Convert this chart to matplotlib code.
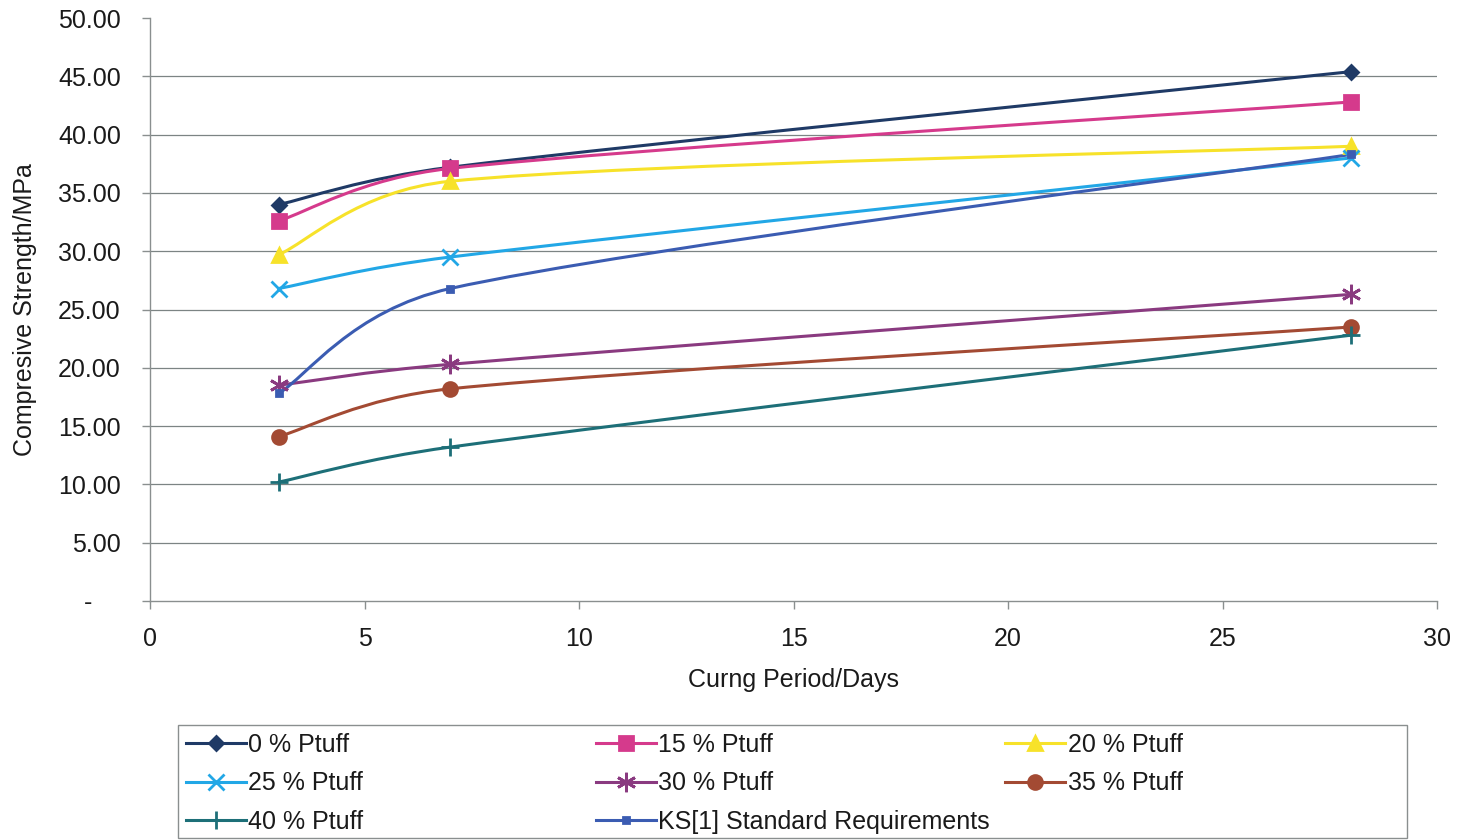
import matplotlib.pyplot as plt
import numpy as np
from matplotlib.path import Path
from matplotlib.patches import PathPatch, Rectangle
from matplotlib.lines import Line2D
from matplotlib.ticker import FuncFormatter, MultipleLocator

plt.rcParams['font.family'] = ['Liberation Sans', 'DejaVu Sans']

# curing ages (days) and compressive strength (MPa)
days = [3, 7, 28]
ptuff_0 = [34.0, 37.2, 45.4]
ptuff_15 = [32.6, 37.1, 42.8]
ptuff_20 = [29.7, 36.0, 39.0]
ptuff_25 = [26.8, 29.5, 38.0]
ptuff_30 = [18.5, 20.3, 26.3]
ptuff_35 = [14.1, 18.2, 23.5]
ptuff_40 = [10.2, 13.2, 22.8]
ks_standard = [17.8, 26.8, 38.3]

labels = ['0 % Ptuff', '15 % Ptuff', '20 % Ptuff', '25 % Ptuff',
          '30 % Ptuff', '35 % Ptuff', '40 % Ptuff',
          'KS[1] Standard Requirements']
series = [ptuff_0, ptuff_15, ptuff_20, ptuff_25,
          ptuff_30, ptuff_35, ptuff_40, ks_standard]

colors = ['#1f3a66', '#d53a8c', '#f7e22a', '#22a7e6',
          '#8a3a80', '#a34a33', '#1d6f78', '#3b5cb2']
markers = ['D', 's', '^', 'x', (6, 2, 0), 'o', '+', 's']
msizes = [7.5, 10, 10, 11, 14, 10, 13, 4]

W, H = 1457, 840
fig = plt.figure(figsize=(W / 100, H / 100), dpi=100)
ax = fig.add_axes([150 / W, 1 - 601 / H, (1437 - 150) / W, (601 - 18) / H])

ax.set_xlim(0, 30)
ax.set_ylim(0, 50)
ax.xaxis.set_major_locator(MultipleLocator(5))
ax.yaxis.set_major_locator(MultipleLocator(5))
ax.yaxis.set_major_formatter(FuncFormatter(lambda v, p: '-    ' if v == 0 else f'{v:.2f}'))
ax.xaxis.set_major_formatter(FuncFormatter(lambda v, p: f'{v:.0f}'))

grid_c = '#7c8484'
for yv in range(5, 50, 5):
    ax.axhline(yv, color=grid_c, lw=0.9, zorder=0)
for s in ['top', 'right']:
    ax.spines[s].set_visible(False)
for s in ['left', 'bottom']:
    ax.spines[s].set_color('#8a8f8f')
    ax.spines[s].set_linewidth(1.0)
ax.tick_params(axis='both', direction='out', length=6, width=1.0,
               color='#8a8f8f', labelsize=18, labelcolor='#1a1a1a')
ax.tick_params(axis='y', pad=15)
ax.tick_params(axis='x', pad=13)

ax.set_xlabel('Curng Period/Days', fontsize=18, color='#1a1a1a', labelpad=12)
ax.set_ylabel('Compresive Strength/MPa', fontsize=18, color='#1a1a1a')
ax.yaxis.set_label_coords(-113 / (1437 - 150), 0.5)


def smooth_path(xs, ys):
    # bezier smoothing done in screen space, like spreadsheet "smoothed line"
    pts = ax.transData.transform(np.column_stack([xs, ys]))
    n = len(pts)
    verts = [pts[0]]
    codes = [Path.MOVETO]
    for i in range(n - 1):
        p0, p1 = pts[i], pts[i + 1]
        prev = pts[i - 1] if i > 0 else p0
        nxt = pts[i + 2] if i + 2 < n else p1
        half = np.hypot(*(p1 - p0)) / 2
        t1 = p1 - prev
        t2 = nxt - p0
        f1 = min(1 / 6, half / max(np.hypot(*t1), 1e-9))
        f2 = min(1 / 6, half / max(np.hypot(*t2), 1e-9))
        verts += [p0 + f1 * t1, p1 - f2 * t2, p1]
        codes += [Path.CURVE4] * 3
    verts = ax.transData.inverted().transform(np.array(verts))
    return Path(verts, codes)


handles = []
for lab, vals, c, m, ms in zip(labels, series, colors, markers, msizes):
    ax.add_patch(PathPatch(smooth_path(days, vals), fill=False, edgecolor=c,
                           lw=2.2, capstyle='round', zorder=3))
    ax.plot(days, vals, ls='none', marker=m, ms=ms, color=c, mec=c, mfc=c,
            mew=2, zorder=4, clip_on=False)
    handles.append(Line2D([], [], color=c, lw=2.2, marker=m, ms=ms,
                          mec=c, mfc=c, mew=2, label=lab))

# legend box with three equal-width columns
fig.add_artist(Rectangle((178 / W, 1 - 838 / H), (1407 - 178) / W, 113 / H,
                         transform=fig.transFigure, fill=False,
                         edgecolor='#8a8f8f', lw=1.0))
columns = [([0, 3, 6], 186), ([1, 4, 7], 596), ([2, 5], 1005)]
for idx, xpix in columns:
    fig.legend([handles[i] for i in idx], [labels[i] for i in idx],
               loc='upper left', bbox_to_anchor=(xpix / W, 1 - 733 / H),
               frameon=False, borderpad=0, borderaxespad=0, fontsize=18,
               handlelength=2.4, handletextpad=0.1, labelspacing=0.58,
               labelcolor='#1a1a1a')

fig.savefig('out.png', dpi=100)
